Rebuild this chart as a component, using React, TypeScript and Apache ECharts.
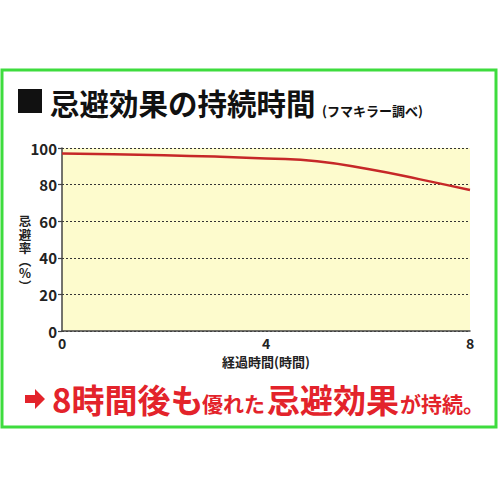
import React, { useEffect, useRef } from 'react';
import * as echarts from 'echarts';

// hours elapsed vs repellent rate (%)
const hours = [0, 1, 2, 3, 4, 5, 6, 7, 8];
const repelRate = [97, 96.6, 96, 95.3, 94.3, 92.8, 88.5, 83, 77];
const xTicks = { min: 0, max: 8, interval: 4 };
const yTicks = { min: 0, max: 100, interval: 20 };
const yName = ['忌', '避', '率', '︵', '%', '︶'];
const yNameRows = [220, 234, 247, 260, 272, 285];

const FONT = '"Noto Sans CJK JP", "Noto Sans", sans-serif';
const RED = '#e3232b';

const App: React.FC = () => {
    const chartRef = useRef<HTMLDivElement>(null);

    useEffect(() => {
        document.body.style.margin = '0';
        if (!chartRef.current) return;
        const chart = echarts.init(chartRef.current, undefined, { renderer: 'svg' });

        // vertical axis title, one upright glyph per row
        const yNameTexts = yName.map((ch, i) => ({
            type: 'text' as const,
            x: 25,
            y: yNameRows[i],
            style: {
                text: ch,
                fontFamily: FONT,
                fontWeight: 'bold' as const,
                fontSize: 12.5,
                lineHeight: 12,
                fill: '#222',
                align: 'center' as const,
                verticalAlign: 'middle' as const,
            },
        }));

        const option: echarts.EChartsOption = {
            animation: false,
            backgroundColor: '#ffffff',
            grid: {
                left: 62,
                right: 30,
                top: 148,
                bottom: 169,
                show: true,
                backgroundColor: '#fdfbcd',
                borderWidth: 0,
            },
            xAxis: {
                type: 'value',
                ...xTicks,
                name: '経過時間(時間)',
                nameLocation: 'middle',
                nameGap: 24,
                nameTextStyle: { fontFamily: FONT, fontWeight: 'bold', fontSize: 13, color: '#222' },
                axisLine: { show: true, lineStyle: { color: '#444', width: 1.5 } },
                axisTick: { show: false },
                splitLine: { show: false },
                axisLabel: { fontFamily: FONT, fontWeight: 'bold', fontSize: 14, color: '#222', margin: 5 },
            },
            yAxis: {
                type: 'value',
                ...yTicks,
                axisLine: { show: true, lineStyle: { color: '#444', width: 1.5 } },
                axisTick: { show: true, length: 4, lineStyle: { color: '#444', width: 1.2 } },
                splitLine: { show: true, lineStyle: { color: '#333', type: [2, 2], width: 1 } },
                axisLabel: { fontFamily: FONT, fontWeight: 'bold', fontSize: 15, color: '#222', margin: 5 },
            },
            series: [
                {
                    type: 'line',
                    data: hours.map((h, i) => [h, repelRate[i]]),
                    smooth: true,
                    showSymbol: false,
                    lineStyle: { color: '#c62828', width: 2.5 },
                },
            ],
            graphic: [
                {
                    type: 'rect',
                    shape: { x: 2, y: 70, width: 494, height: 357 },
                    style: { fill: 'none', stroke: '#3edc3e', lineWidth: 3 },
                    z: 10,
                },
                ...yNameTexts,
                {
                    type: 'rect',
                    shape: { x: 18, y: 89, width: 24, height: 24 },
                    style: { fill: '#111' },
                },
                {
                    type: 'text',
                    x: 50,
                    y: 101.5,
                    style: {
                        text: '忌避効果の持続時間',
                        fontFamily: FONT,
                        fontWeight: 'bold',
                        fontSize: 29.5,
                        fill: '#111',
                        verticalAlign: 'middle',
                    },
                },
                {
                    type: 'text',
                    x: 322,
                    y: 110,
                    style: {
                        text: '(フマキラー調べ)',
                        fontFamily: FONT,
                        fontWeight: 'bold',
                        fontSize: 13,
                        fill: '#111',
                        verticalAlign: 'middle',
                    },
                },
                {
                    type: 'polygon',
                    shape: {
                        points: [[25, 395], [35, 395], [35, 389], [45, 399], [35, 409], [35, 403], [25, 403]],
                    },
                    style: { fill: RED },
                },
                {
                    type: 'text',
                    x: 52,
                    y: 399,
                    style: { text: '8時間後も', fontFamily: FONT, fontWeight: 'bold', fontSize: 33, fill: RED, verticalAlign: 'middle' },
                },
                {
                    type: 'text',
                    x: 202,
                    y: 403,
                    style: { text: '優れた', fontFamily: FONT, fontWeight: 'bold', fontSize: 21, fill: RED, verticalAlign: 'middle' },
                },
                {
                    type: 'text',
                    x: 267,
                    y: 399,
                    style: { text: '忌避効果', fontFamily: FONT, fontWeight: 'bold', fontSize: 33, fill: RED, verticalAlign: 'middle' },
                },
                {
                    type: 'text',
                    x: 400,
                    y: 403,
                    style: { text: 'が持続。', fontFamily: FONT, fontWeight: 'bold', fontSize: 21, fill: RED, verticalAlign: 'middle' },
                },
            ],
        };

        chart.setOption(option);
        return () => chart.dispose();
    }, []);

    return <div ref={chartRef} style={{ width: 500, height: 500 }} />;
};

export default App;
